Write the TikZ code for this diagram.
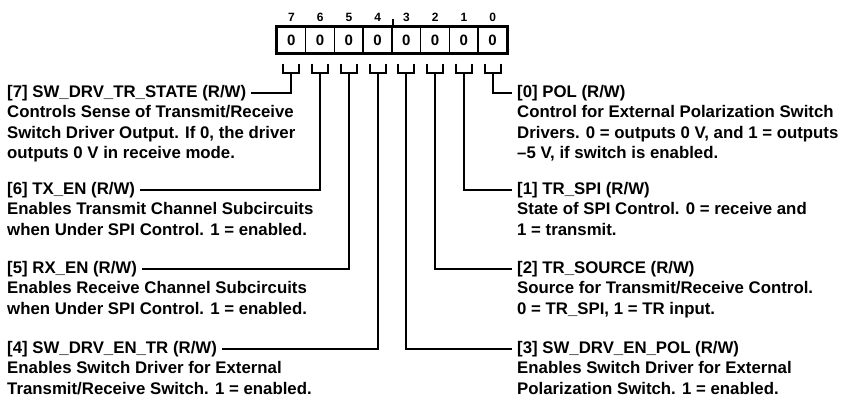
\documentclass[tikz,border=0pt]{standalone}
\usepackage{fontspec}
\setmainfont{Liberation Sans}
\usetikzlibrary{positioning, calc}
\tikzset{
  cell/.style={
    rectangle, draw=black, line width=1.5pt,
    minimum width=28.75pt, minimum height=26pt,
    inner sep=0pt, font=\fontsize{15}{16}\selectfont\bfseries
  },
  bitnum/.style={inner sep=0pt, font=\fontsize{12}{14}\selectfont\bfseries},
  regname/.style={
    inner xsep=5pt, inner ysep=0pt, anchor=west,
    font=\fontsize{16.8}{20.5}\selectfont\bfseries
  },
  regdesc/.style={
    inner sep=0pt, anchor=north west, align=left,
    font=\fontsize{16.8}{20.5}\selectfont\bfseries
  },
  lead/.style={line width=1.8pt, draw=black},
  brk/.style={line width=2pt, draw=black}
}

\begin{document}
\begin{tikzpicture}[x=1pt, y=1pt]
  \useasboundingbox (0,0) rectangle (844,408);
  % register cells, bit 7 on the left
  \foreach \b in {0,...,7} {
    \node[cell] (c\b) at ({492.6-28.75*\b},368) {0};
    \node[bitnum] (n\b) at ({492.6-28.75*\b},391) {\b};
    \draw[brk] ([xshift=-8pt,yshift=-10pt]c\b.south) -- ++(0,-9) -- ++(16,0) -- ++(0,9);
    \coordinate (s\b) at ([yshift=-19pt]c\b.south);
  }
  \draw[line width=2.2pt] (c7.north west) rectangle (c0.south east);
  \draw[brk] (c4.north east) -- ++(0,7);

  % left column
  \node[regname] (t7) at (2,315) {[7] SW\_DRV\_TR\_STATE (R/W)};
  \node[regdesc] (d7) at ([xshift=5pt,yshift=-4.5pt]t7.south west)
    {Controls Sense of Transmit/Receive\\Switch Driver Output. If 0, the driver\\outputs 0 V in receive mode.};
  \node[regname] (t6) at (2,218) {[6] TX\_EN (R/W)};
  \node[regdesc] (d6) at ([xshift=5pt,yshift=-4.5pt]t6.south west)
    {Enables Transmit Channel Subcircuits\\when Under SPI Control. 1 = enabled.};
  \node[regname] (t5) at (2,139) {[5] RX\_EN (R/W)};
  \node[regdesc] (d5) at ([xshift=5pt,yshift=-4.5pt]t5.south west)
    {Enables Receive Channel Subcircuits\\when Under SPI Control. 1 = enabled.};
  \node[regname] (t4) at (2,59) {[4] SW\_DRV\_EN\_TR (R/W)};
  \node[regdesc] (d4) at ([xshift=5pt,yshift=-4.5pt]t4.south west)
    {Enables Switch Driver for External\\Transmit/Receive Switch. 1 = enabled.};

  % right column
  \node[regname] (t0) at (512,315) {[0] POL (R/W)};
  \node[regdesc] (d0) at ([xshift=5pt,yshift=-4.5pt]t0.south west)
    {Control for External Polarization Switch\\Drivers. 0 = outputs 0 V, and 1 = outputs\\–5 V, if switch is enabled.};
  \node[regname] (t1) at (512,218) {[1] TR\_SPI (R/W)};
  \node[regdesc] (d1) at ([xshift=5pt,yshift=-4.5pt]t1.south west)
    {State of SPI Control. 0 = receive and\\1 = transmit.};
  \node[regname] (t2) at (512,139) {[2] TR\_SOURCE (R/W)};
  \node[regdesc] (d2) at ([xshift=5pt,yshift=-4.5pt]t2.south west)
    {Source for Transmit/Receive Control.\\0 = TR\_SPI, 1 = TR input.};
  \node[regname] (t3) at (512,59) {[3] SW\_DRV\_EN\_POL (R/W)};
  \node[regdesc] (d3) at ([xshift=5pt,yshift=-4.5pt]t3.south west)
    {Enables Switch Driver for External\\Polarization Switch. 1 = enabled.};

  % leads
  \foreach \b in {7,6,5,4} \draw[lead] (s\b) |- (t\b.east);
  \foreach \b in {0,1,2,3} \draw[lead] (s\b) |- (t\b.west);
\end{tikzpicture}
\end{document}
